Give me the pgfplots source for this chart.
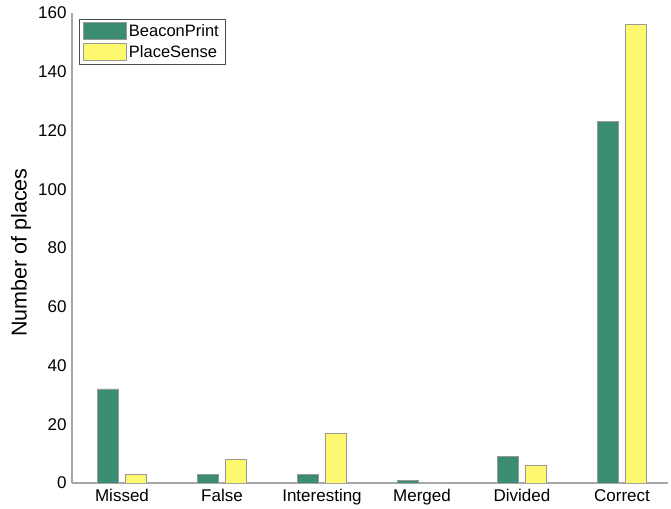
\documentclass[border=0pt]{standalone}
\usepackage{pgfplots}
\pgfplotsset{compat=1.18}
\usepackage{fontspec}
\setmainfont{Liberation Sans}
\definecolor{bgreen}{RGB}{58,140,114}
\definecolor{pyellow}{RGB}{253,248,110}
\begin{document}
\begin{tikzpicture}
\begin{axis}[
  name=ax,
  scale only axis,
  width=596pt, height=470pt,
  xmin=-0.5, xmax=5.46,
  ymin=0, ymax=160,
  ytick={0,20,...,160},
  xtick={0,1,2,3,4,5},
  xticklabels={Missed,False,Interesting,Merged,Divided,Correct},
  major tick length=0pt,
  axis x line*=bottom, axis y line*=left,
  axis line style={draw=black!35, line width=1.2pt, -},
  every outer x axis line/.append style={-},
  every outer y axis line/.append style={-},
  /pgf/number format/assume math mode=true,
  tick label style={font=\fontsize{17}{20}\selectfont},
  yticklabel style={xshift=-2pt},
  xticklabel style={yshift=-3pt},
  ylabel={Number of places},
  ylabel style={font=\fontsize{21.5}{24}\selectfont, at={(rel axis cs:0,0.49)}, anchor=center, yshift=51pt},
  legend style={at={(0.012,0.987)}, anchor=north west, draw=black!70,
    font=\fontsize{16.5}{19}\selectfont, row sep=3pt, inner xsep=4pt, inner ysep=3pt},
  legend cell align=left,
  legend image code/.code={\draw[#1, draw=black!40] (0pt,-8pt) rectangle (43pt,9pt);},
]
\addplot[ybar, bar width=0.21, bar shift=-0.14, fill=bgreen, draw=black!40, line width=0.6pt]
  coordinates {(0,32) (1,3) (2,3) (3,1) (4,9) (5,123)};
\addlegendentry{BeaconPrint}
\addplot[ybar, bar width=0.21, bar shift=0.14, fill=pyellow, draw=black!40, line width=0.6pt]
  coordinates {(0,3) (1,8) (2,17) (3,0) (4,6) (5,156)};
\addlegendentry{PlaceSense}
\end{axis}
\path (ax.south west) ++(-72pt,-25pt);
\path (ax.north east) ++(3pt,13pt);
\end{tikzpicture}
\end{document}
